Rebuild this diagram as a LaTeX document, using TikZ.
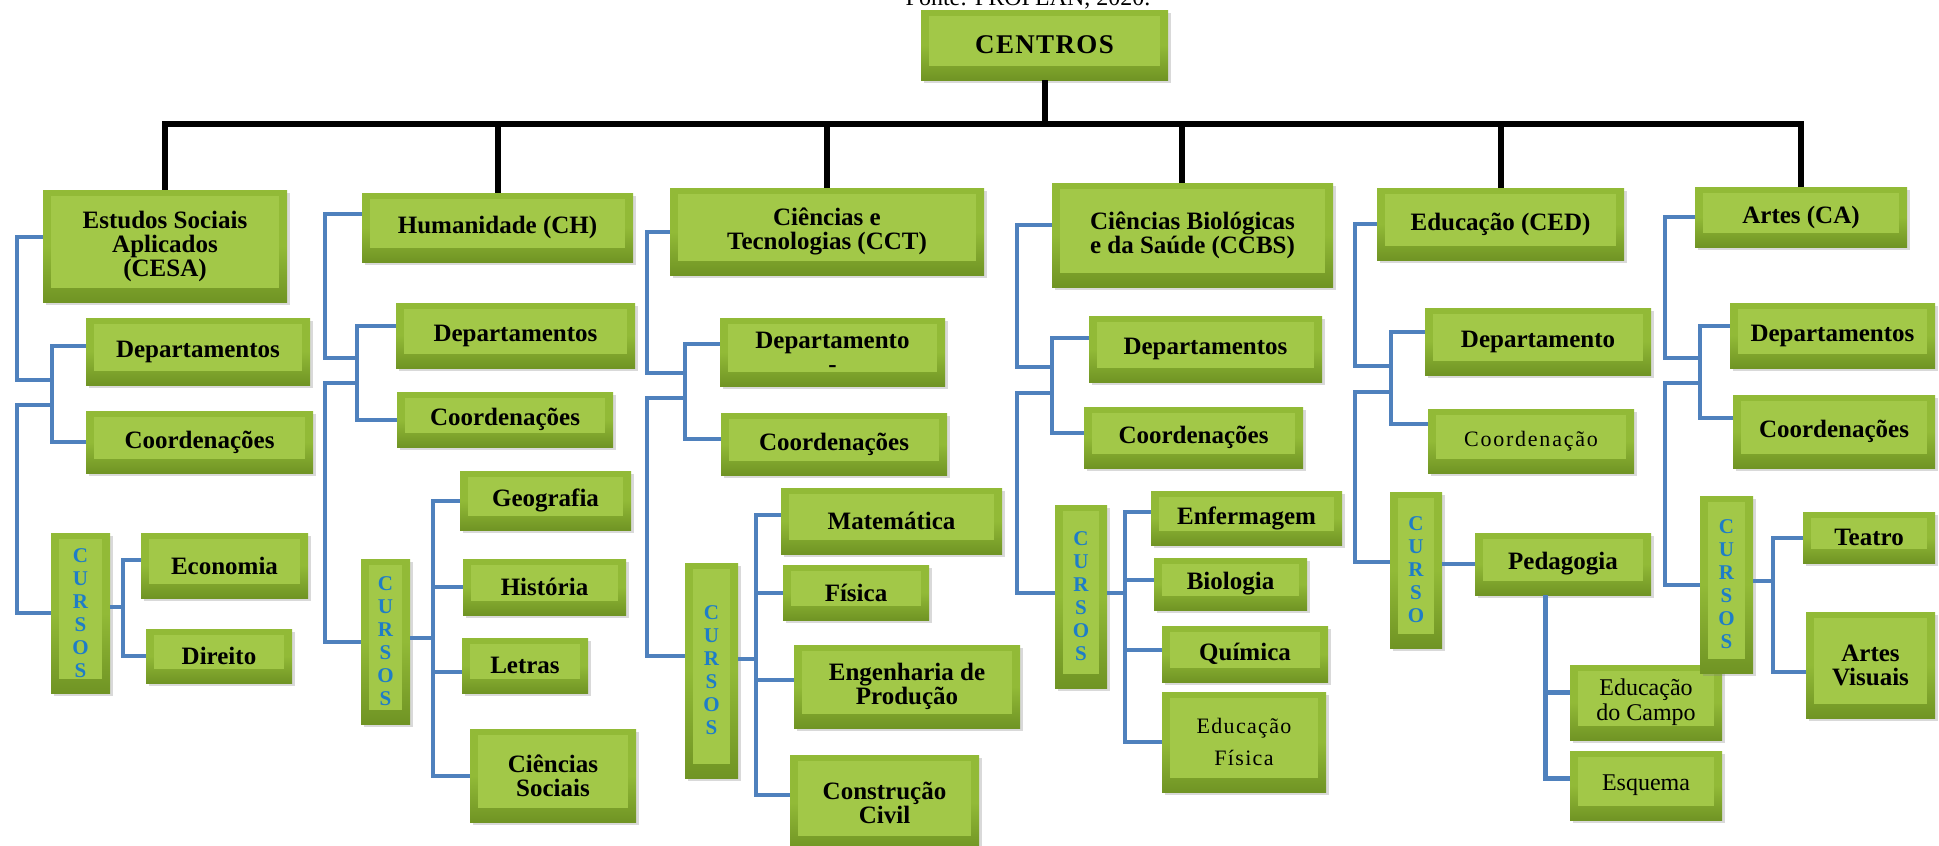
\documentclass[tikz,border=0pt]{standalone}
\usepackage{fontspec}
\setmainfont{Liberation Serif}
\usepackage{tikz}
\usetikzlibrary{calc,positioning,shadows}

\definecolor{boxout}{RGB}{146,186,55}
\definecolor{boxin}{RGB}{162,200,72}
\definecolor{boxlow}{RGB}{112,148,36}
\definecolor{linkblue}{RGB}{79,129,189}
\definecolor{cursoblue}{RGB}{30,125,200}

\tikzset{
  gbox/.style={top color=boxout,bottom color=boxlow,middle color=boxout,
               inner sep=1pt,align=center,text=black,
               font=\fontsize{12.5}{12}\selectfont\bfseries,
               drop shadow={shadow xshift=1.5pt,shadow yshift=-1.5pt,opacity=.3},
               path picture={\fill[boxin]
                 ($(path picture bounding box.south west)+(4pt,7pt)$) rectangle
                 ($(path picture bounding box.north east)+(-4pt,-3pt)$) ;}},
  cursobox/.style={gbox,text=cursoblue,font=\fontsize{10.5}{11.5}\selectfont\bfseries},
  thinbox/.style={gbox,font={\fontsize{11}{16}\selectfont\addfontfeatures{LetterSpace=6}}},
  romanbox/.style={gbox,font=\fontsize{12}{12.5}\selectfont},
  busline/.style={line width=3pt,draw=black},
  bluelink/.style={line width=2pt,draw=linkblue},
}

\begin{document}
\begin{tikzpicture}[x=0.5pt,y=-0.5pt]
%
  \useasboundingbox (0,0) rectangle (1939,846) ;
  \clip (0,0) rectangle (1939,846) ;
%
  \node[anchor=base,font=\fontsize{12}{14}\selectfont] (fonte) at (1028,5) {Fonte: PROPLAN, 2020.} ;
%
  \node[gbox,minimum width=123.5pt,minimum height=35pt,
        font={\fontsize{13.5}{14}\selectfont\bfseries\addfontfeatures{LetterSpace=5}}]
        (centros) at (1044.5,45) {CENTROS} ;
%
  \node[gbox,minimum width=122pt,minimum height=56pt] (cesa) at (165,246) {Estudos Sociais\\Aplicados\\(CESA)} ;
  \node[gbox,minimum width=135.5pt,minimum height=34.5pt] (ch) at (497.5,227.5) {Humanidade (CH)} ;
  \node[gbox,minimum width=157pt,minimum height=43.5pt] (cct) at (827,231.5) {Ciências e\\Tecnologias (CCT)} ;
  \node[gbox,minimum width=140.5pt,minimum height=52pt] (ccbs) at (1192.5,235) {Ciências Biológicas\\e da Saúde (CCBS)} ;
  \node[gbox,minimum width=123.5pt,minimum height=36pt] (ced) at (1500.5,224) {Educação (CED)} ;
  \node[gbox,minimum width=106pt,minimum height=30pt] (ca) at (1801,217) {Artes (CA)} ;
%
  \node[gbox,minimum width=112pt,minimum height=33.5pt] (cesadep) at (198,351.5) {Departamentos} ;
  \node[gbox,minimum width=113.5pt,minimum height=31pt] (cesacoo) at (199.5,442) {Coordenações} ;
  \node[cursobox,minimum width=29.5pt,minimum height=80pt] (cesacur) at (80.5,613) {C\\U\\R\\S\\O\\S} ;
  \node[gbox,minimum width=83.5pt,minimum height=32.5pt] (econ) at (224.5,565.5) {Economia} ;
  \node[gbox,minimum width=73pt,minimum height=27pt] (dir) at (219,656) {Direito} ;
%
  \node[gbox,minimum width=119.5pt,minimum height=32.5pt] (chdep) at (515.5,335.5) {Departamentos} ;
  \node[gbox,minimum width=108pt,minimum height=27.5pt] (chcoo) at (505,419.5) {Coordenações} ;
  \node[cursobox,minimum width=24.5pt,minimum height=82.5pt] (chcur) at (385.5,641.5) {C\\U\\R\\S\\O\\S} ;
  \node[gbox,minimum width=85.5pt,minimum height=29.5pt] (geo) at (545.5,500.5) {Geografia} ;
  \node[gbox,minimum width=81.5pt,minimum height=28pt] (hist) at (544.5,587) {História} ;
  \node[gbox,minimum width=63pt,minimum height=27.5pt] (letras) at (525,665.5) {Letras} ;
  \node[gbox,minimum width=83pt,minimum height=46.5pt] (csoc) at (553,775.5) {Ciências\\Sociais} ;
%
  \node[gbox,minimum width=112.5pt,minimum height=34pt] (cctdep) at (832.5,352) {Departamento\\-} ;
  \node[gbox,minimum width=113pt,minimum height=31pt] (cctcoo) at (834,444) {Coordenações} ;
  \node[cursobox,minimum width=26.5pt,minimum height=107.5pt] (cctcur) at (711.5,670.5) {C\\U\\R\\S\\O\\S} ;
  \node[gbox,minimum width=110.5pt,minimum height=33pt] (mat) at (891.5,521) {Matemática} ;
  \node[gbox,minimum width=73pt,minimum height=27.5pt] (fis) at (856,592.5) {Física} ;
  \node[gbox,minimum width=113pt,minimum height=41.5pt] (eng) at (907,686.5) {Engenharia de\\Produção} ;
  \node[gbox,minimum width=94.5pt,minimum height=47.5pt] (civ) at (884.5,802.5) {Construção\\Civil} ;
%
  \node[gbox,minimum width=116.5pt,minimum height=33pt] (ccbsdep) at (1205.5,349) {Departamentos} ;
  \node[gbox,minimum width=109.5pt,minimum height=30.5pt] (ccbscoo) at (1193.5,437.5) {Coordenações} ;
  \node[cursobox,minimum width=26pt,minimum height=91.5pt] (ccbscur) at (1081,596.5) {C\\U\\R\\S\\O\\S} ;
  \node[gbox,minimum width=95.5pt,minimum height=27pt] (enf) at (1246.5,518) {Enfermagem} ;
  \node[gbox,minimum width=76.5pt,minimum height=26pt] (bio) at (1230.5,584) {Biologia} ;
  \node[gbox,minimum width=83pt,minimum height=28pt] (qui) at (1245,654) {Química} ;
  \node[thinbox,minimum width=82pt,minimum height=50pt] (edf) at (1244,742) {Educação\\Física} ;
%
  \node[gbox,minimum width=113pt,minimum height=33.5pt] (ceddep) at (1538,341.5) {Departamento} ;
  \node[thinbox,minimum width=103pt,minimum height=32pt,
        font={\fontsize{11}{13}\selectfont\addfontfeatures{LetterSpace=8}}] (cedcoo) at (1531,441) {Coordenação} ;
  \node[cursobox,minimum width=26pt,minimum height=78pt] (cedcur) at (1416,570) {C\\U\\R\\S\\O} ;
  \node[gbox,minimum width=88pt,minimum height=31pt] (ped) at (1563,564) {Pedagogia} ;
  \node[romanbox,minimum width=76pt,minimum height=37.5pt] (edc) at (1646,702.5) {Educação\\do Campo} ;
  \node[romanbox,minimum width=76pt,minimum height=34.5pt] (esq) at (1646,785.5) {Esquema} ;
%
  \node[gbox,minimum width=102.5pt,minimum height=32.5pt] (cadep) at (1832.5,335.5) {Departamentos} ;
  \node[gbox,minimum width=101pt,minimum height=36.5pt] (cacoo) at (1834,431.5) {Coordenações} ;
  \node[cursobox,minimum width=26.5pt,minimum height=88.5pt] (cacur) at (1726.5,584.5) {C\\U\\R\\S\\O\\S} ;
  \node[gbox,minimum width=66pt,minimum height=25.5pt] (tea) at (1869,537.5) {Teatro} ;
  \node[gbox,minimum width=64.5pt,minimum height=53pt] (av) at (1870.5,665) {Artes\\Visuais} ;
%
  % black bus from CENTROS to the six centres
  \coordinate (bus) at (0,124) ;
  \draw[busline] (centros.south) -- (centros.south |- bus) ;
  \draw[busline] (cesa.north) -- (cesa.north |- bus) -- (ca.north |- bus) -- (ca.north) ;
  \foreach \c in {ch,cct,ced}
    \draw[busline] (\c.north) -- (\c.north |- bus) ;
  \draw[busline] ([xshift=-5.5pt]ccbs.north) -- ([xshift=-5.5pt]ccbs.north |- bus) ;
%
  % CESA
  \coordinate (cesain) at (52,380) ;
  \coordinate (cesaout) at (52,405) ;
  \coordinate (cesasp) at (17,0) ;
  \coordinate (cesacf) at (123,0) ;
  \draw[bluelink] ([yshift=4.5pt]cesa.west) -| (cesasp |- cesain) -- (cesain) ;
  \draw[bluelink] ([yshift=3pt]cesadep.west) -| (cesain) |- (cesacoo.west) ;
  \draw[bluelink] (cesaout) -- (cesasp |- cesaout) |- (cesacur.west) ;
  \draw[bluelink] ([yshift=3pt]cesacur.east) -- ([yshift=3pt]cesacur.east -| cesacf) ;
  \draw[bluelink] ([yshift=3pt]econ.west) -| (cesacf |- dir.west) -- (dir.west) ;
%
  % CH
  \coordinate (chin) at (357,358) ;
  \coordinate (chout) at (357,383) ;
  \coordinate (chsp) at (325,0) ;
  \coordinate (chcf) at (433,0) ;
  \draw[bluelink] ([yshift=7pt]ch.west) -| (chsp |- chin) -- (chin) ;
  \draw[bluelink] ([yshift=5pt]chdep.west) -| (chin) |- (chcoo.west) ;
  \draw[bluelink] (chout) -- (chsp |- chout) |- (chcur.west) ;
  \draw[bluelink] ([yshift=2pt]chcur.east) -- ([yshift=2pt]chcur.east -| chcf) ;
  \draw[bluelink] (geo.west) -| (chcf |- csoc.west) -- (csoc.west) ;
  \draw[bluelink] (hist.west) -- (hist.west -| chcf) ;
  \draw[bluelink] ([yshift=-3pt]letras.west) -- ([yshift=-3pt]letras.west -| chcf) ;
%
  % CCT
  \coordinate (cctin) at (685,373) ;
  \coordinate (cctout) at (685,398) ;
  \coordinate (cctsp) at (647,0) ;
  \coordinate (cctcf) at (756,0) ;
  \draw[bluelink] (cct.west) -| (cctsp |- cctin) -- (cctin) ;
  \draw[bluelink] ([yshift=4pt]cctdep.west) -| (cctin) |- ([yshift=2.5pt]cctcoo.west) ;
  \draw[bluelink] (cctout) -- (cctsp |- cctout) |- ([yshift=7.5pt]cctcur.west) ;
  \draw[bluelink] ([yshift=6pt]cctcur.east) -- ([yshift=6pt]cctcur.east -| cctcf) ;
  \draw[bluelink] ([yshift=3pt]mat.west) -| ([yshift=4pt]cctcf |- civ.west) -- ([yshift=4pt]civ.west) ;
  \draw[bluelink] (fis.west) -- (fis.west -| cctcf) ;
  \draw[bluelink] ([yshift=3.5pt]eng.west) -- ([yshift=3.5pt]eng.west -| cctcf) ;
%
  % CCBS
  \coordinate (ccbsin) at (1052,367) ;
  \coordinate (ccbsout) at (1052,393) ;
  \coordinate (ccbssp) at (1017,0) ;
  \coordinate (ccbscf) at (1125,0) ;
  \draw[bluelink] ([yshift=5pt]ccbs.west) -| (ccbssp |- ccbsin) -- (ccbsin) ;
  \draw[bluelink] ([yshift=5.5pt]ccbsdep.west) -| (ccbsin) |- ([yshift=2.5pt]ccbscoo.west) ;
  \draw[bluelink] (ccbsout) -- (ccbssp |- ccbsout) |- ([yshift=2pt]ccbscur.west) ;
  \draw[bluelink] ([yshift=2pt]ccbscur.east) -- ([yshift=2pt]ccbscur.east -| ccbscf) ;
  \draw[bluelink] ([yshift=3pt]enf.west) -| (ccbscf |- edf.west) -- (edf.west) ;
  \draw[bluelink] ([yshift=2pt]bio.west) -- ([yshift=2pt]bio.west -| ccbscf) ;
  \draw[bluelink] ([yshift=2pt]qui.west) -- ([yshift=2pt]qui.west -| ccbscf) ;
%
  % CED
  \coordinate (cedin) at (1391,366) ;
  \coordinate (cedout) at (1391,392) ;
  \coordinate (cedsp) at (1355,0) ;
  \coordinate (pedstem) at (1545,0) ;
  \draw[bluelink] (ced.west) -| (cedsp |- cedin) -- (cedin) ;
  \draw[bluelink] ([yshift=5pt]ceddep.west) -| (cedin) |- ([yshift=8.5pt]cedcoo.west) ;
  \draw[bluelink] (cedout) -- (cedsp |- cedout) |- ([yshift=4pt]cedcur.west) ;
  \draw[bluelink] (ped.west) -- (ped.west -| cedcur.east) ;
  \draw[bluelink,line width=2.5pt] (ped.south -| pedstem) |- ([yshift=3.5pt]esq.west) ;
  \draw[bluelink,line width=2.5pt] ([yshift=5pt]edc.west) -- ([yshift=5pt]edc.west -| pedstem) ;
%
  % CA
  \coordinate (cain) at (1700,358) ;
  \coordinate (caout) at (1700,383) ;
  \coordinate (casp) at (1665,0) ;
  \coordinate (cacf) at (1773,0) ;
  \draw[bluelink] (ca.west) -| (casp |- cain) -- (cain) ;
  \draw[bluelink] ([yshift=5pt]cadep.west) -| (cain) |- ([yshift=7pt]cacoo.west) ;
  \draw[bluelink] (caout) -- (casp |- caout) |- (cacur.west) ;
  \draw[bluelink] ([yshift=2pt]cacur.east) -- ([yshift=2pt]cacur.east -| cacf) ;
  \draw[bluelink] (tea.west) -| ([yshift=-3.5pt]cacf |- av.west) -- ([yshift=-3.5pt]av.west) ;
\end{tikzpicture}
\end{document}
